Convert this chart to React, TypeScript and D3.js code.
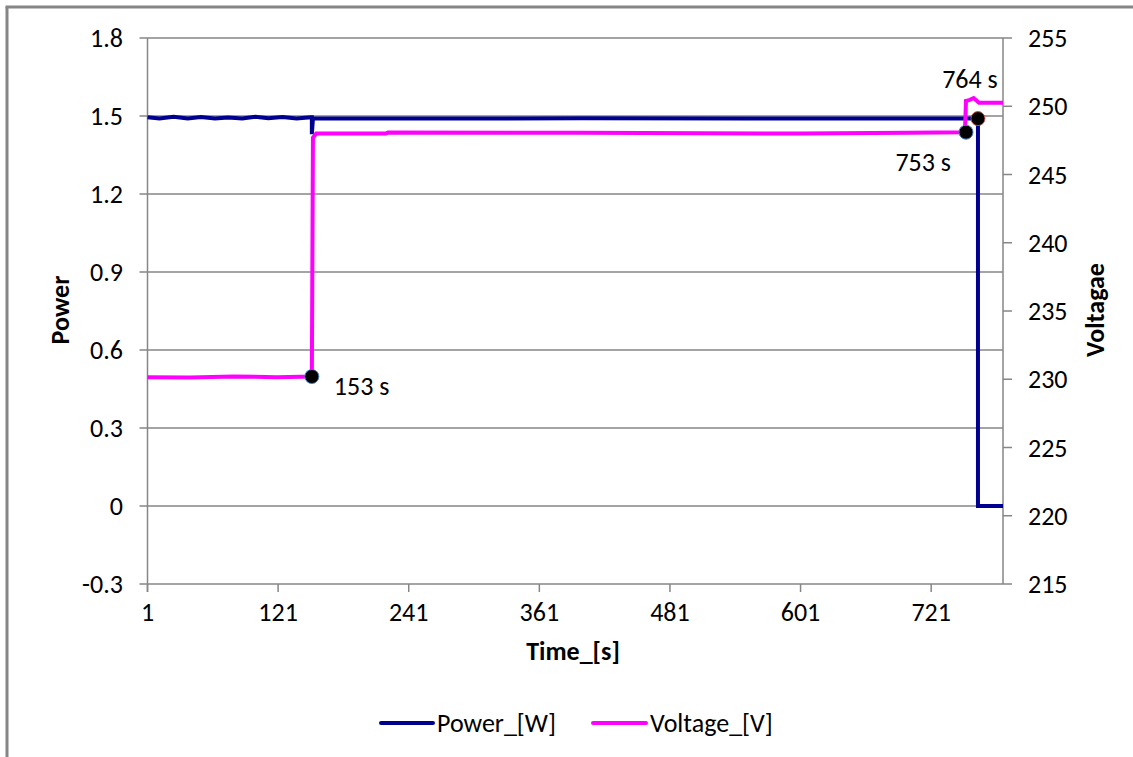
import React from "react";
import * as d3 from "d3";

const xTicks = [1, 121, 241, 361, 481, 601, 721];
const powerTicks = [-0.3, 0, 0.3, 0.6, 0.9, 1.2, 1.5, 1.8];
const voltTicks = [215, 220, 225, 230, 235, 240, 245, 250, 255];

const powerTime = [1, 12, 25, 38, 50, 63, 75, 88, 100, 112, 125, 138, 151, 152, 152, 153, 250, 400, 550, 700, 764, 764, 787];
const powerValue = [1.495, 1.49, 1.497, 1.49, 1.496, 1.49, 1.494, 1.49, 1.497, 1.491, 1.496, 1.49, 1.495, 1.495, 1.43, 1.49, 1.49, 1.491, 1.49, 1.49, 1.49, 0, 0];

const voltTime = [1, 40, 80, 120, 152, 152, 153, 156, 220, 222, 400, 600, 700, 752, 753, 756, 760, 765, 787];
const voltValue = [230.15, 230.12, 230.2, 230.15, 230.2, 230.2, 247.7, 248.0, 248.0, 248.08, 248.05, 248.0, 248.05, 248.1, 250.4, 250.45, 250.6, 250.25, 250.25];

const markers = [
  { t: 152, series: "volt", value: 230.2, label: "153 s", edge: "#4a7fc0" },
  { t: 753, series: "volt", value: 248.1, label: "753 s", edge: "#4a7fc0" },
  { t: 764, series: "power", value: 1.49, label: "764 s", edge: "#c0504d" },
];

const FONT = "Carlito, Lato, 'Open Sans', sans-serif";
const FS = 26;

export default function App() {
  const left = 147.5, right = 1003, top = 38, bottom = 584;
  const x = d3.scaleLinear().domain([1, 787]).range([left, right]);
  const yP = d3.scaleLinear().domain([-0.3, 1.8]).range([bottom, top]);
  const yV = d3.scaleLinear().domain([215, 255]).range([bottom, top]);

  const powerLine = d3.line<number>().x((_, i) => x(powerTime[i])).y((d) => yP(d))(powerValue) || "";
  const voltLine = d3.line<number>().x((_, i) => x(voltTime[i])).y((d) => yV(d))(voltValue) || "";

  const grey = "#868686";
  const labelOffsets: Record<string, [number, number, string]> = {
    "153 s": [22, 9, "start"],
    "753 s": [-15, 30, "end"],
    "764 s": [-8, -40, "middle"],
  };

  return (
    <svg width={1133} height={757} style={{ position: "absolute", left: 0, top: 0, background: "#fff" }}>
      <rect x={0} y={0} width={1133} height={757} fill="#fff" />
      <line x1={7} y1={7} x2={7} y2={757} stroke={grey} strokeWidth={3} />
      <line x1={5.5} y1={7} x2={1133} y2={7} stroke={grey} strokeWidth={3} />

      {powerTicks.map((t) => (
        <g key={"p" + t}>
          <line x1={left - 8} x2={right} y1={yP(t)} y2={yP(t)} stroke={grey} strokeWidth={1.5} />
          <text x={123} y={yP(t)} dy="0.35em" textAnchor="end" fontFamily={FONT} fontSize={FS} fill="#000">
            {t === 0 ? "0" : t.toFixed(1)}
          </text>
        </g>
      ))}
      {voltTicks.map((t) => (
        <g key={"v" + t}>
          <line x1={right} x2={right + 9} y1={yV(t)} y2={yV(t)} stroke={grey} strokeWidth={1.5} />
          <text x={1028} y={yV(t)} dy="0.35em" textAnchor="start" fontFamily={FONT} fontSize={FS} fill="#000">
            {t}
          </text>
        </g>
      ))}
      <line x1={left} x2={left} y1={top} y2={bottom + 8} stroke={grey} strokeWidth={1.5} />
      <line x1={right} x2={right} y1={top} y2={bottom} stroke={grey} strokeWidth={1.5} />
      {xTicks.map((t) => (
        <g key={"x" + t}>
          <line x1={x(t)} x2={x(t)} y1={bottom} y2={bottom + 8} stroke={grey} strokeWidth={1.5} />
          <text x={x(t)} y={612} dy="0.35em" textAnchor="middle" fontFamily={FONT} fontSize={FS} fill="#000">
            {t}
          </text>
        </g>
      ))}

      <path d={powerLine} fill="none" stroke="#000090" strokeWidth={4} strokeLinejoin="miter" />
      <path d={voltLine} fill="none" stroke="#ff00ff" strokeWidth={4} strokeLinejoin="miter" />

      {markers.map((m) => {
        const cx = x(m.t);
        const cy = m.series === "volt" ? yV(m.value) : yP(m.value);
        const [dx, dy, anchor] = labelOffsets[m.label];
        return (
          <g key={m.label}>
            <circle cx={cx} cy={cy} r={7} fill="#000" stroke={m.edge} strokeWidth={1} />
            <text x={cx + dx} y={cy + dy} dy="0.35em" textAnchor={anchor as any} fontFamily={FONT} fontSize={FS} fill="#000">
              {m.label}
            </text>
          </g>
        );
      })}

      <text x={573} y={651} dy="0.35em" textAnchor="middle" fontFamily={FONT} fontWeight="bold" fontSize={FS}>
        Time_[s]
      </text>
      <text transform="translate(60,310) rotate(-90)" dy="0.35em" textAnchor="middle" fontFamily={FONT} fontWeight="bold" fontSize={FS}>
        Power
      </text>
      <text transform="translate(1095,310) rotate(-90)" dy="0.35em" textAnchor="middle" fontFamily={FONT} fontWeight="bold" fontSize={FS}>
        Voltagae
      </text>

      <line x1={381} x2={433} y1={723} y2={723} stroke="#000090" strokeWidth={4} strokeLinecap="round" />
      <text x={437} y={723} dy="0.35em" fontFamily={FONT} fontSize={FS}>Power_[W]</text>
      <line x1={593} x2={646} y1={723} y2={723} stroke="#ff00ff" strokeWidth={4} strokeLinecap="round" />
      <text x={650} y={723} dy="0.35em" fontFamily={FONT} fontSize={FS}>Voltage_[V]</text>
    </svg>
  );
}
